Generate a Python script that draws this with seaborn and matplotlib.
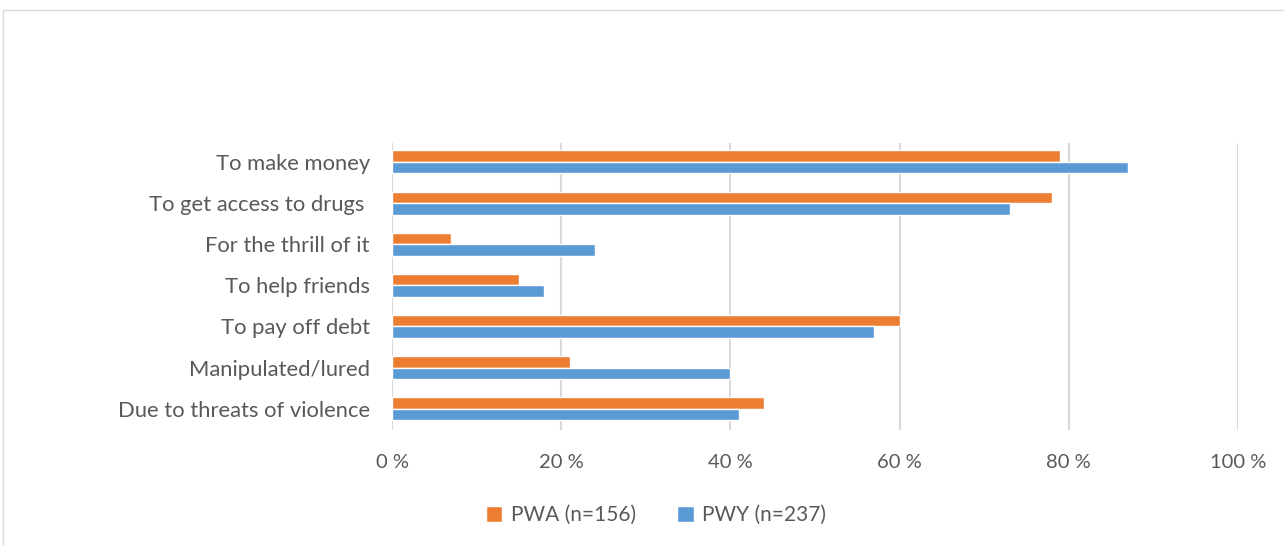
import pandas as pd
import seaborn as sns
import matplotlib.pyplot as plt
from matplotlib.patches import Rectangle

reasons = ['To make money', 'To get access to drugs ', 'For the thrill of it', 'To help friends',
           'To pay off debt', 'Manipulated/lured', 'Due to threats of violence']
pwa = [79, 78, 7, 15, 60, 21, 44]
pwy = [87, 73, 24, 18, 57, 40, 41]
groups = ['PWA (n=156)', 'PWY (n=237)']

dados = pd.DataFrame({
    'reason': reasons * 2,
    'value': pwa + pwy,
    'group': [groups[0]] * len(reasons) + [groups[1]] * len(reasons),
})

sns.set_style('white')
plt.rcParams['font.family'] = ['Lato', 'DejaVu Sans']
grey = '#595959'

fig = plt.figure(figsize=(12.84, 5.46), dpi=100)
ax = fig.add_axes([392 / 1284, 1 - 430 / 546, (1238 - 392) / 1284, (430 - 143) / 546])

sns.barplot(data=dados, y='reason', x='value', hue='group', hue_order=groups,
            palette=['#ED7D31', '#5B9BD5'], orient='h', width=0.56, ax=ax, saturation=1)

ax.set_xlim(0, 100)
ax.set_ylim(6.52, -0.46)
ax.set_xticks(range(0, 101, 20))
ax.set_xticklabels([f'{v} %' for v in range(0, 101, 20)])
ax.grid(axis='x', color='#D9D9D9', lw=1.5)
ax.set_axisbelow(True)
for s in ax.spines.values():
    s.set_visible(False)
ax.set_xlabel('')
ax.set_ylabel('')
ax.tick_params(axis='both', length=0, colors=grey)
ax.tick_params(axis='x', pad=17, labelsize=14.5)
ax.tick_params(axis='y', pad=16, labelsize=15.8)

ax.legend(loc='center', bbox_to_anchor=((656 - 392) / 846, 1 - (515 - 143) / (430 - 143)), ncol=2,
          frameon=False, fontsize=15, labelcolor=grey, handlelength=0.8, handleheight=0.8,
          handletextpad=0.4, columnspacing=2.0)

fig.patches.append(Rectangle((3 / 1284, -0.01), 1.0, 1 - 10 / 546 + 0.01, transform=fig.transFigure,
                             fill=False, edgecolor='#D9D9D9', lw=1))

plt.savefig('out.png', dpi=100)
